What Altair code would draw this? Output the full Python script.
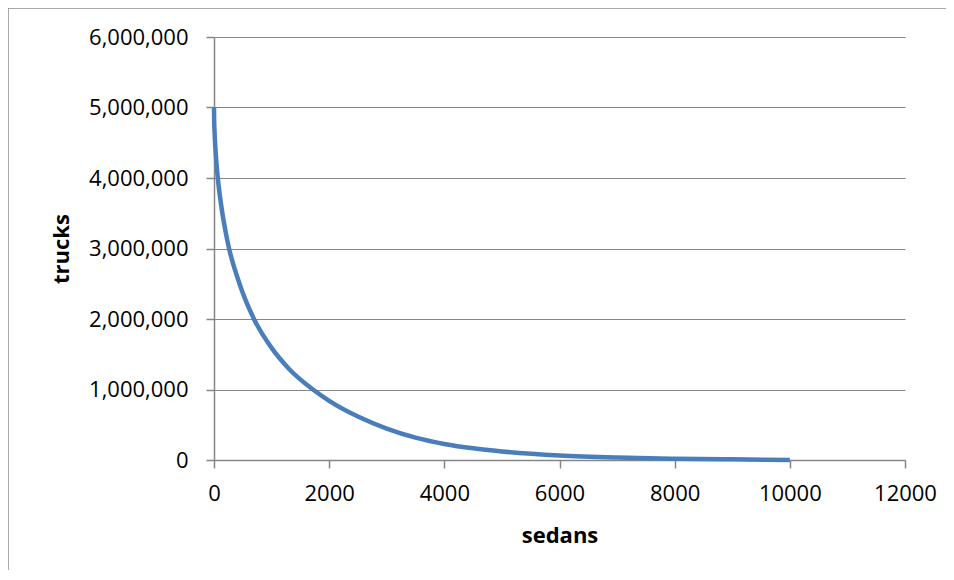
import altair as alt
import pandas as pd

sedans = [0, 3, 10, 30, 66, 120, 240, 443, 700, 1000, 1300, 1718, 2000, 2500,
          3000, 3500, 4000, 4500, 5000, 6000, 7000, 8000, 9000, 10000]
trucks = [5000000, 4820000, 4650000, 4350000, 4000000, 3640000, 3080000, 2500000,
          1990000, 1590000, 1295000, 1000000, 840000, 617000, 446000, 317000,
          228000, 166000, 122000, 65000, 35000, 18000, 9500, 0]

x_ticks = [0, 2000, 4000, 6000, 8000, 10000, 12000]
y_ticks = [0, 1000000, 2000000, 3000000, 4000000, 5000000, 6000000]

df = pd.DataFrame({"sedans": sedans, "trucks": trucks})

FONT = "Open Sans"
GRID = "#868686"

line = alt.Chart(df).mark_line(color="#4A7EBB", strokeWidth=4.5, interpolate="monotone").encode(
    x=alt.X("sedans:Q",
            scale=alt.Scale(domain=[0, 12000], nice=False),
            axis=alt.Axis(values=x_ticks, format="d", title="sedans", grid=False,
                          tickSize=8, labelPadding=15, titlePadding=21,
                          labelFlush=False)),
    y=alt.Y("trucks:Q",
            scale=alt.Scale(domain=[0, 6000000], nice=False),
            axis=alt.Axis(values=y_ticks, format=",d", title="trucks", grid=True,
                          tickSize=8, labelPadding=18, titlePadding=15,
                          labelFlush=False)),
)

border_data = alt.Data(values=[{}])
left_border = alt.Chart(border_data).mark_rule(color="#8C8C8C", strokeWidth=1.5).encode(
    x=alt.value(-206), y=alt.value(-29), y2=alt.value(540))
top_border = alt.Chart(border_data).mark_rule(color="#8C8C8C", strokeWidth=1.5).encode(
    x=alt.value(-206), x2=alt.value(760), y=alt.value(-29))

chart = alt.layer(line, left_border, top_border).properties(
    width=691, height=423,
    autosize=alt.AutoSizeParams(type="none"),
    padding={"left": 206, "top": 29, "right": 41, "bottom": 110},
).configure_view(stroke=None).configure_axis(
    domainColor=GRID, tickColor=GRID, gridColor=GRID, domainWidth=1.5, tickWidth=1.5,
    gridWidth=1.2, labelFont=FONT, labelFontSize=22, labelColor="#000000",
    titleFont=FONT, titleFontSize=22, titleFontWeight="bold", titleColor="#000000",
).configure_axisY(titleAngle=-90)

chart.save("out.html", embed_options={"renderer": "svg", "actions": False})
